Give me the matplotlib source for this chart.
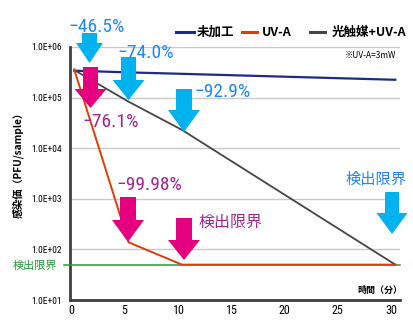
import math
import matplotlib
matplotlib.use("Agg")
import matplotlib.pyplot as plt
import matplotlib.ticker as mticker
from matplotlib.transforms import Affine2D
from matplotlib.patches import Polygon
from matplotlib.lines import Line2D
from matplotlib import font_manager
from matplotlib.font_manager import FontProperties

W, H = 413, 324

# ---- data ----
series_names = ["未加工", "UV-A", "光触媒+UV-A"]
t_untreated = [0.3, 5.4, 10.4, 30.4]
v_untreated = [3.4e5, 3.15e5, 2.95e5, 2.25e5]
t_uva = [0.3, 5.4, 10.4, 30.4]
v_uva = [3.6e5, 1.38e2, 5.0e1, 5.0e1]
t_photo = [0.3, 5.4, 10.4, 30.4]
v_photo = [3.5e5, 8.3e4, 2.3e4, 5.0e1]
detection_limit = 5.0e1
x_ticks = [0, 5, 10, 15, 20, 25, 30]
y_ticks = [1e1, 1e2, 1e3, 1e4, 1e5, 1e6]

col_navy = "#1B2C86"
col_red = "#E23A0A"
col_gray = "#454545"
col_green = "#22993A"
col_cyan = "#00B2EE"
col_mag = "#E5007F"
col_blue_txt = "#1F86F5"
col_purple_txt = "#A3238F"

# find a condensed / narrow font file if one is installed
narrow_path = None
pref = ["LiberationSansNarrow-Regular", "RobotoCondensed-Regular", "DejaVuSansCondensed.ttf",
        "Narrow", "Condensed"]
files = [f.fname for f in font_manager.fontManager.ttflist]
for key in pref:
    hits = [p for p in files if key in p.split("/")[-1]
            and "Bold" not in p and "Italic" not in p and "Oblique" not in p]
    if hits:
        narrow_path = hits[0]
        break
have_narrow = narrow_path is not None


def nfont(size):
    if have_narrow:
        return FontProperties(fname=narrow_path, size=size)
    return FontProperties(family="Liberation Sans", size=size * 0.85)


CJK = "Noto Sans CJK JP"

fig = plt.figure(figsize=(W / 100, H / 100), dpi=100)
ax = fig.add_axes([70 / W, 1 - 300 / H, 330 / W, 253 / H])

ax.set_yscale("log")
ax.set_xlim(-0.094, 30.84)
ax.set_ylim(10, 1e6)

for y in y_ticks[1:]:
    ax.axhline(y, color="#C8C8C8", lw=1.0, zorder=1)

ax.plot(t_untreated, v_untreated, color=col_navy, lw=1.6, zorder=3)
ax.plot(t_photo, v_photo, color=col_gray, lw=1.3, zorder=3)
ax.plot(t_uva, v_uva, color=col_red, lw=1.4, zorder=4)
ax.plot([-0.7, 30.84], [detection_limit, detection_limit], color=col_green, lw=1.1,
        zorder=3.5, clip_on=False)

ax.set_xticks(x_ticks)
ax.set_yticks(y_ticks)
ax.yaxis.set_minor_locator(mticker.NullLocator())
ax.yaxis.set_major_formatter(mticker.FuncFormatter(
    lambda v, p: "1.0E+%02d" % round(math.log10(v))))
ax.tick_params(length=0)
ax.tick_params(axis="y", pad=6)
ax.tick_params(axis="x", pad=3)
for lab in ax.get_yticklabels():
    lab.set_fontproperties(nfont(6.8))
for lab in ax.get_xticklabels():
    lab.set_fontproperties(nfont(8.7))

for s in ["top", "right"]:
    ax.spines[s].set_visible(False)
ax.spines["left"].set_color("#404040")
ax.spines["left"].set_linewidth(2.0)
ax.spines["bottom"].set_color("#404040")
ax.spines["bottom"].set_linewidth(2.0)

# pixel transform (origin top-left)
px = Affine2D().scale(1 / W, -1 / H).translate(0, 1) + fig.transFigure


def arrow(xc, top, sw, hw, hs, tip, color):
    pts = [(xc - sw / 2, top), (xc + sw / 2, top), (xc + sw / 2, hs), (xc + hw / 2, hs),
           (xc, tip), (xc - hw / 2, hs), (xc - sw / 2, hs)]
    fig.patches.append(Polygon(pts, closed=True, transform=px, facecolor=color,
                               edgecolor="none", zorder=5))


def ptext(x, y, s, **kw):
    return fig.text(x / W, 1 - y / H, s, ha="center", va="center", **kw)


# arrows
arrow(89.5, 33, 15, 27, 43, 63, col_cyan)
arrow(128.5, 57, 15, 32, 80, 100, col_cyan)
arrow(184, 89, 16, 32, 110, 132, col_cyan)
arrow(392, 192, 14, 31, 213, 234, col_cyan)
arrow(90.5, 67, 15, 32, 89, 108, col_mag)
arrow(128, 197, 16, 32, 220, 242, col_mag)
arrow(184, 218, 16, 32, 240, 260, col_mag)

# percentage annotations
pct = [(96.5, 27, "−46.5%", col_blue_txt), (146, 53, "−74.0%", col_blue_txt),
       (222.5, 92, "−92.9%", col_blue_txt), (111, 122, "−76.1%", col_purple_txt),
       (149, 185, "−99.98%", col_purple_txt)]
for x, y, s, c in pct:
    ptext(x, y, s, color=c, fontproperties=nfont(14), zorder=6)
ptext(230, 222, "検出限界", color=col_purple_txt, family=CJK, fontsize=11.5, zorder=6)
ptext(376, 179, "検出限界", color=col_blue_txt, family=CJK, fontsize=11, zorder=6)
ptext(35, 265.5, "検出限界", color=col_green, family=CJK, fontsize=8)

# legend (manual)
leg = [(176, 194, 197, series_names[0], col_navy),
       (242, 257, 262, series_names[1], col_red),
       (310, 325, 332, series_names[2], col_gray)]
for x0, x1, xt, name, c in leg:
    fig.lines.append(Line2D([x0, x1], [32, 32], transform=px, color=c, lw=2.2))
    fig.text(xt / W, 1 - 32.5 / H, name, ha="left", va="center",
             family=[CJK, "DejaVu Sans"], fontsize=9, fontweight="bold")

ptext(371, 55, "※UV-A=3mW", family=[CJK, "DejaVu Sans"], fontsize=6)
ptext(380, 290, "時間（分）", family=CJK, fontsize=6.5, fontweight="bold")
fig.text(18 / W, 1 - 162 / H, "感染価（PFU/sample）", rotation=90, ha="center",
         va="center", family=CJK, fontsize=7.3, fontweight="bold")

fig.savefig("out.png", dpi=100)
